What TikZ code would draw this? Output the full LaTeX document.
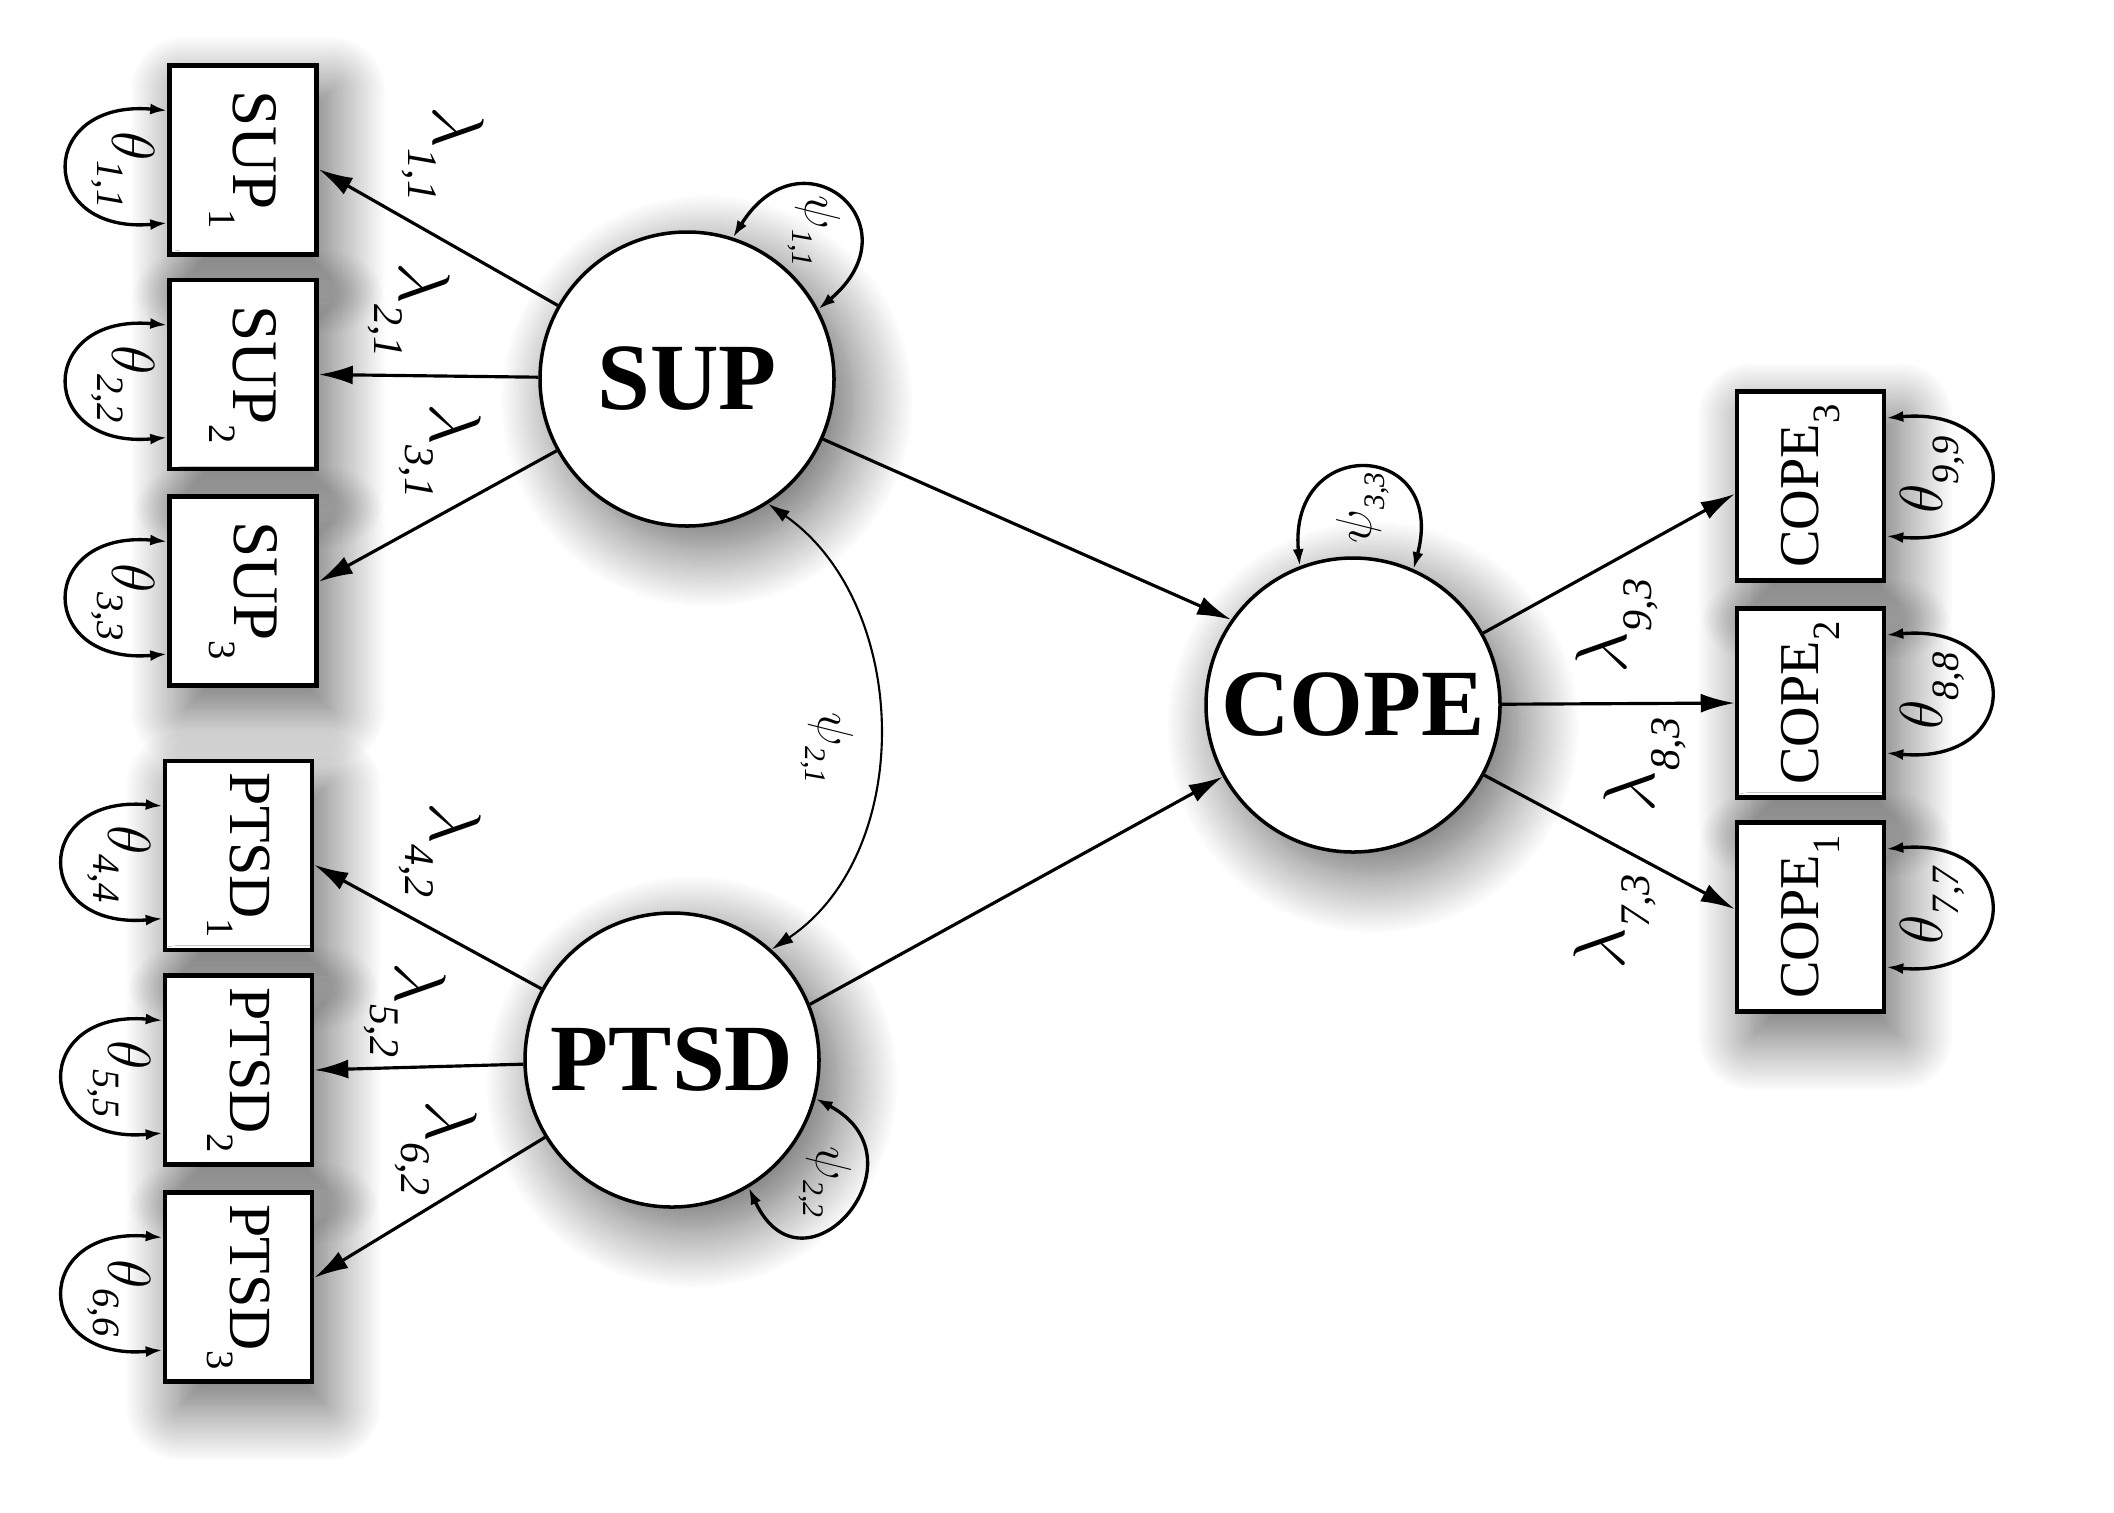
\documentclass[tikz,border=0pt]{standalone}
\usepackage{fontspec}
\setmainfont{Liberation Serif}
\usepackage{graphicx}
\usetikzlibrary{arrows.meta, shadows.blur}

\newcommand{\lam}[1]{$\lambda$\raisebox{-0.34em}{\fontsize{12}{12}\selectfont\textit{#1}}}
\newcommand{\thet}[1]{$\theta$\raisebox{-0.28em}{\fontsize{11}{11}\selectfont\textit{#1}}}
\newcommand{\psis}[1]{$\psi$\raisebox{-0.28em}{\fontsize{8.5}{9}\selectfont\textit{#1}}}
\newcommand{\obsidx}[1]{\raisebox{-0.38em}{\fontsize{11}{11}\selectfont #1}}

\tikzset{
  latent/.style={circle, draw, line width=1pt, fill=white, minimum size=2.94cm, inner sep=0pt,
    font=\fontsize{27}{30}\selectfont\bfseries,
    blur shadow={shadow xshift=0.2cm, shadow yshift=-0.22cm, shadow blur radius=0.6cm, shadow blur steps=30, shadow opacity=62}},
  obsbox/.style={rectangle, draw, line width=1.3pt, fill=white, minimum width=1.47cm, minimum height=1.89cm, inner sep=0pt,
    font=\fontsize{18.5}{20}\selectfont,
    blur shadow={shadow xshift=0.15cm, shadow yshift=-0.25cm, shadow blur radius=0.55cm, shadow blur steps=30, shadow opacity=62}},
  loading/.style={-{Latex[length=0.34cm,width=0.19cm]}, line width=0.9pt},
  errvar/.style={{Latex[length=0.17cm,width=0.11cm]}-{Latex[length=0.17cm,width=0.11cm]}, line width=0.95pt, looseness=3},
  covar/.style={{Latex[length=0.22cm,width=0.13cm]}-{Latex[length=0.22cm,width=0.13cm]}, line width=0.6pt},
  lamlab/.style={inner sep=0pt, font=\fontsize{21}{24}\selectfont},
  thlab/.style={inner sep=0pt, font=\fontsize{16}{18}\selectfont},
  psilab/.style={inner sep=0pt, font=\fontsize{13.5}{15}\selectfont},
}

\begin{document}
\begin{tikzpicture}
\useasboundingbox (0,0) rectangle (21.14,-15.12);
%\draw[step=1cm,gray,very thin] (0,0) grid (21.14,-15.12); %background grid

% latent variables
\node[latent] (sup)  at (6.87,-3.79)  {SUP};
\node[latent] (ptsd) at (6.72,-10.60) {PTSD};
\node[latent] (cope) at (13.53,-7.05) {COPE};

% indicators
\node[obsbox] (s1) at (2.43,-1.60)  {\rotatebox{-90}{SUP\obsidx{1}}};
\node[obsbox] (s2) at (2.43,-3.745) {\rotatebox{-90}{SUP\obsidx{2}}};
\node[obsbox] (s3) at (2.43,-5.91)  {\rotatebox{-90}{SUP\obsidx{3}}};
\node[obsbox, font=\fontsize{17}{19}\selectfont] (p1) at (2.385,-8.555) {\rotatebox{-90}{PTSD\obsidx{1}}};
\node[obsbox, font=\fontsize{17}{19}\selectfont] (p2) at (2.385,-10.70) {\rotatebox{-90}{PTSD\obsidx{2}}};
\node[obsbox, font=\fontsize{17}{19}\selectfont] (p3) at (2.385,-12.87) {\rotatebox{-90}{PTSD\obsidx{3}}};
\node[obsbox, font=\fontsize{16}{18}\selectfont] (c3) at (18.105,-4.86) {\rotatebox{90}{COPE\obsidx{3}}};
\node[obsbox, font=\fontsize{16}{18}\selectfont] (c2) at (18.105,-7.03) {\rotatebox{90}{COPE\obsidx{2}}};
\node[obsbox, font=\fontsize{16}{18}\selectfont] (c1) at (18.105,-9.17) {\rotatebox{90}{COPE\obsidx{1}}};

% loadings
\draw[loading] (sup) -- (s1.-7);
\draw[loading] (sup) -- (s2.east);
\draw[loading] (sup) -- (s3.7);
\draw[loading] (ptsd) -- (p1.-7);
\draw[loading] (ptsd) -- (p2.east);
\draw[loading] (ptsd) -- (p3.7);
\draw[loading] (cope) -- (c3.186);
\draw[loading] (cope) -- (c2.west);
\draw[loading] (cope) -- (c1.174);

% structural paths
\draw[loading] (sup) -- (cope.145);
\draw[loading] (ptsd.22) -- (cope);
\draw[covar] (sup.-57) to[out=-35,in=34] (ptsd.48);

% residual variances
\draw[errvar] ([yshift=4.95mm]s1.west) to[out=175,in=185] ([yshift=-6.3mm]s1.west);
\draw[errvar] ([yshift=4.95mm]s2.west) to[out=175,in=185] ([yshift=-6.3mm]s2.west);
\draw[errvar] ([yshift=4.95mm]s3.west) to[out=175,in=185] ([yshift=-6.3mm]s3.west);
\draw[errvar] ([yshift=4.95mm]p1.west) to[out=175,in=185] ([yshift=-6.3mm]p1.west);
\draw[errvar] ([yshift=4.95mm]p2.west) to[out=175,in=185] ([yshift=-6.3mm]p2.west);
\draw[errvar] ([yshift=4.95mm]p3.west) to[out=175,in=185] ([yshift=-6.3mm]p3.west);
\draw[errvar] ([yshift=6.8mm]c3.east) to[out=5,in=-5] ([yshift=-5mm]c3.east);
\draw[errvar] ([yshift=6.8mm]c2.east) to[out=5,in=-5] ([yshift=-5mm]c2.east);
\draw[errvar] ([yshift=6.8mm]c1.east) to[out=5,in=-5] ([yshift=-5mm]c1.east);
\draw[errvar] (sup.72) to[out=58,in=40] (sup.28);
\draw[errvar] (ptsd.-15) to[out=-28,in=-65] (ptsd.-59);
\draw[errvar] (cope.111) to[out=95,in=75] (cope.66);

% labels
\node[lamlab, rotate=-90] (l11) at (4.43,-1.54)  {\lam{1,1}};
\node[lamlab, rotate=-90] (l21) at (4.09,-3.10)  {\lam{2,1}};
\node[lamlab, rotate=-90] (l31) at (4.40,-4.51)  {\lam{3,1}};
\node[lamlab, rotate=-90] (l42) at (4.40,-8.50)  {\lam{4,2}};
\node[lamlab, rotate=-90] (l52) at (4.05,-10.10) {\lam{5,2}};
\node[lamlab, rotate=-90] (l62) at (4.36,-11.48) {\lam{6,2}};
\node[lamlab, rotate=90]  (l93) at (16.17,-6.26) {\lam{9,3}};
\node[lamlab, rotate=90]  (l83) at (16.45,-7.65) {\lam{8,3}};
\node[lamlab, rotate=90]  (l73) at (16.15,-9.22) {\lam{7,3}};

\node[thlab, rotate=-90] (t11) at (1.23,-1.70)  {\thet{1,1}};
\node[thlab, rotate=-90] (t22) at (1.23,-3.84)  {\thet{2,2}};
\node[thlab, rotate=-90] (t33) at (1.23,-6.02)  {\thet{3,3}};
\node[thlab, rotate=-90] (t44) at (1.19,-8.64)  {\thet{4,4}};
\node[thlab, rotate=-90] (t55) at (1.19,-10.79) {\thet{5,5}};
\node[thlab, rotate=-90] (t66) at (1.19,-12.98) {\thet{6,6}};
\node[thlab, rotate=90]  (t99) at (19.32,-4.75) {\thet{9,9}};
\node[thlab, rotate=90]  (t88) at (19.32,-6.91) {\thet{8,8}};
\node[thlab, rotate=90]  (t77) at (19.32,-9.05) {\thet{7,7}};

\node[psilab, rotate=-90] (ps11) at (8.14,-2.31)  {\psis{1,1}};
\node[psilab, rotate=-90] (ps21) at (8.27,-7.48)  {\psis{2,1}};
\node[psilab, rotate=-90] (ps22) at (8.25,-11.82) {\psis{2,2}};
\node[psilab, rotate=90]  (ps33) at (13.63,-5.08) {\psis{3,3}};

\end{tikzpicture}
\end{document}
